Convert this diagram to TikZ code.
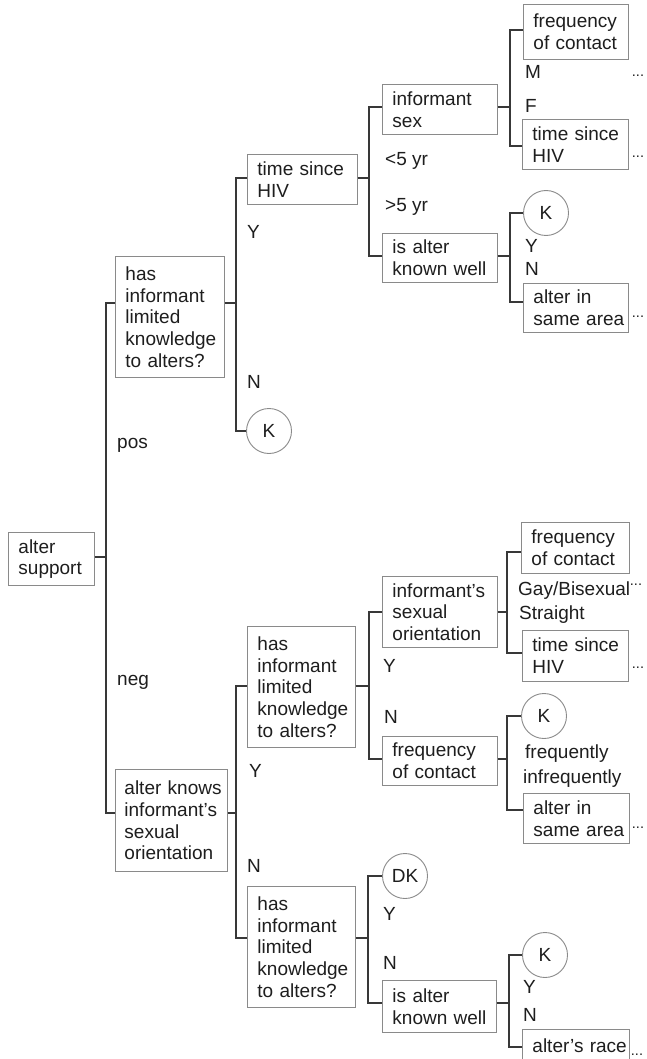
\documentclass[tikz,border=0pt]{standalone}
\usepackage{fontspec}
\setmainfont{Liberation Sans}
\definecolor{boxgray}{HTML}{8A8A8A}
\definecolor{conngray}{HTML}{383838}
\definecolor{txt}{HTML}{1E1E1E}
\newcommand\fs{\fontsize{19}{21.7}\selectfont\hyphenpenalty=10000\exhyphenpenalty=10000}
\begin{document}
\begin{tikzpicture}[x=1pt,y=-1pt,
  box/.style args={#1x#2}{draw=boxgray, line width=0.9pt, anchor=north west, inner xsep=0pt, inner ysep=0pt, align=left, font=\fs, text=txt, text width=#1pt, minimum height=#2pt, execute at begin node={\leftskip=10pt\relax}},
  conn/.style={draw=conngray, line width=1.6pt},
  lab/.style={anchor=base west, inner sep=0pt, font=\fs, text=txt},
  circ/.style={circle, draw=boxgray, line width=0.9pt, minimum size=45pt, inner sep=0pt, font=\fs, text=txt},
  dotz/.style={font=\fontsize{14.5}{16}\selectfont, inner sep=0pt, text=txt}]
\useasboundingbox (0,0) rectangle (646,1059);
\fill[white] (0,0) rectangle (646,1059);

% boxes
\node[box=86x53] (sup) at (8,532) {alter\\support};
\node[box=109x121] (hA) at (115,256) {has\\informant\\limited\\knowledge\\to alters?};
\node[box=110x50] (tA) at (247,154) {time since\\HIV};
\node[box=115x50] (iS) at (382,84) {informant\\sex};
\node[box=105x55] (fA) at (523,4) {frequency\\of contact};
\node[box=106x50] (tB) at (522,119) {time since\\HIV};
\node[box=115x49] (kA) at (382,233) {is alter\\known well};
\node[box=105x49] (aA) at (523,283) {alter in\\same area};
\node[box=112x102, execute at begin node={\leftskip=9pt\relax}] (ak) at (115,769) {alter knows\\informant’s\\sexual\\orientation};
\node[box=108x121] (hB) at (247,626) {has\\informant\\limited\\knowledge\\to alters?};
\node[box=115x71] (iO) at (382,576) {informant’s\\sexual\\orientation};
\node[box=108x51] (fB) at (521,522) {frequency\\of contact};
\node[box=106x51] (tC) at (522,630) {time since\\HIV};
\node[box=115x49] (fC) at (382,736) {frequency\\of contact};
\node[box=106x50] (aB) at (523,793) {alter in\\same area};
\node[box=108x121] (hC) at (247,886) {has\\informant\\limited\\knowledge\\to alters?};
\node[box=114x52] (kB) at (382,980) {is alter\\known well};
\node[box=107x32] (ar) at (522,1029) {alter’s race};

% circles
\node[circ] (cK1) at (269,431) {K};
\node[circ] (cK2) at (546,213) {K};
\node[circ] (cK3) at (544,716) {K};
\node[circ] (cDK) at (405,876) {DK};
\node[circ] (cK4) at (545,955) {K};

% connectors
\draw[conn] (sup.east|-0,557) -- (106,557) |- (hA.west|-0,303);
\draw[conn] (sup.east|-0,557) -- (106,557) |- (ak.west|-0,813);
\draw[conn] (hA.east|-0,303) -- (236,303) |- (tA.west|-0,178);
\draw[conn] (hA.east|-0,303) -- (236,303) |- (cK1.west);
\draw[conn] (ak.east|-0,813) -- (236,813) |- (hB.west|-0,686);
\draw[conn] (ak.east|-0,813) -- (236,813) |- (hC.west|-0,938);
\draw[conn] (tA.east|-0,178) -- (369,178) |- (iS.west|-0,107);
\draw[conn] (tA.east|-0,178) -- (369,178) |- (kA.west|-0,256);
\draw[conn] (hB.east|-0,686) -- (369,686) |- (iO.west|-0,612);
\draw[conn] (hB.east|-0,686) -- (369,686) |- (fC.west|-0,759);
\draw[conn] (hC.east|-0,938) -- (368,938) |- (cDK.west);
\draw[conn] (hC.east|-0,938) -- (368,938) |- (kB.west|-0,1003);
\draw[conn] (iS.east|-0,107) -- (510,107) |- (fA.west|-0,30);
\draw[conn] (iS.east|-0,107) -- (510,107) |- (tB.west|-0,146);
\draw[conn] (kA.east|-0,256) -- (510,256) |- (cK2.west);
\draw[conn] (kA.east|-0,256) -- (510,256) |- (aA.west|-0,302);
\draw[conn] (iO.east|-0,612) -- (507,612) |- (fB.west|-0,552);
\draw[conn] (iO.east|-0,612) -- (507,612) |- (tC.west|-0,653);
\draw[conn] (fC.east|-0,759) -- (507,759) |- (cK3.west);
\draw[conn] (fC.east|-0,759) -- (507,759) |- (aB.west|-0,810);
\draw[conn] (kB.east|-0,1003) -- (509,1003) |- (cK4.west);
\draw[conn] (kB.east|-0,1003) -- (509,1003) |- (ar.west|-0,1047);

% labels
\node[lab] (lpos) at (117,448) {pos};
\node[lab] (lneg) at (117,685) {neg};
\node[lab] (l1) at (247,239) {Y};
\node[lab] (l2) at (247,388) {N};
\node[lab] (l3) at (385,166) {<5 yr};
\node[lab] (l4) at (385,212) {>5 yr};
\node[lab] (l5) at (525,79) {M};
\node[lab] (l6) at (525,113) {F};
\node[lab] (l7) at (525,252) {Y};
\node[lab] (l8) at (525,275) {N};
\node[lab] (l9) at (249,777) {Y};
\node[lab] (l10) at (247,872) {N};
\node[lab] (l11) at (383,672) {Y};
\node[lab] (l12) at (384,723) {N};
\node[lab] (l13) at (518,595) {Gay/Bisexual};
\node[lab] (l14) at (519,619) {Straight};
\node[lab] (l15) at (525,758) {frequently};
\node[lab] (l16) at (523,783) {infrequently};
\node[lab] (l17) at (383,920) {Y};
\node[lab] (l18) at (383,969) {N};
\node[lab] (l19) at (523,993) {Y};
\node[lab] (l20) at (523,1021) {N};

% continuation dots
\node[dotz] (d1) at (638,76) {...};
\node[dotz] (d2) at (638,157) {...};
\node[dotz] (d3) at (638,317) {...};
\node[dotz] (d4) at (636,585) {...};
\node[dotz] (d5) at (638,668) {...};
\node[dotz] (d6) at (638,828) {...};
\node[dotz] (d7) at (637,1055) {...};
\end{tikzpicture}
\end{document}
